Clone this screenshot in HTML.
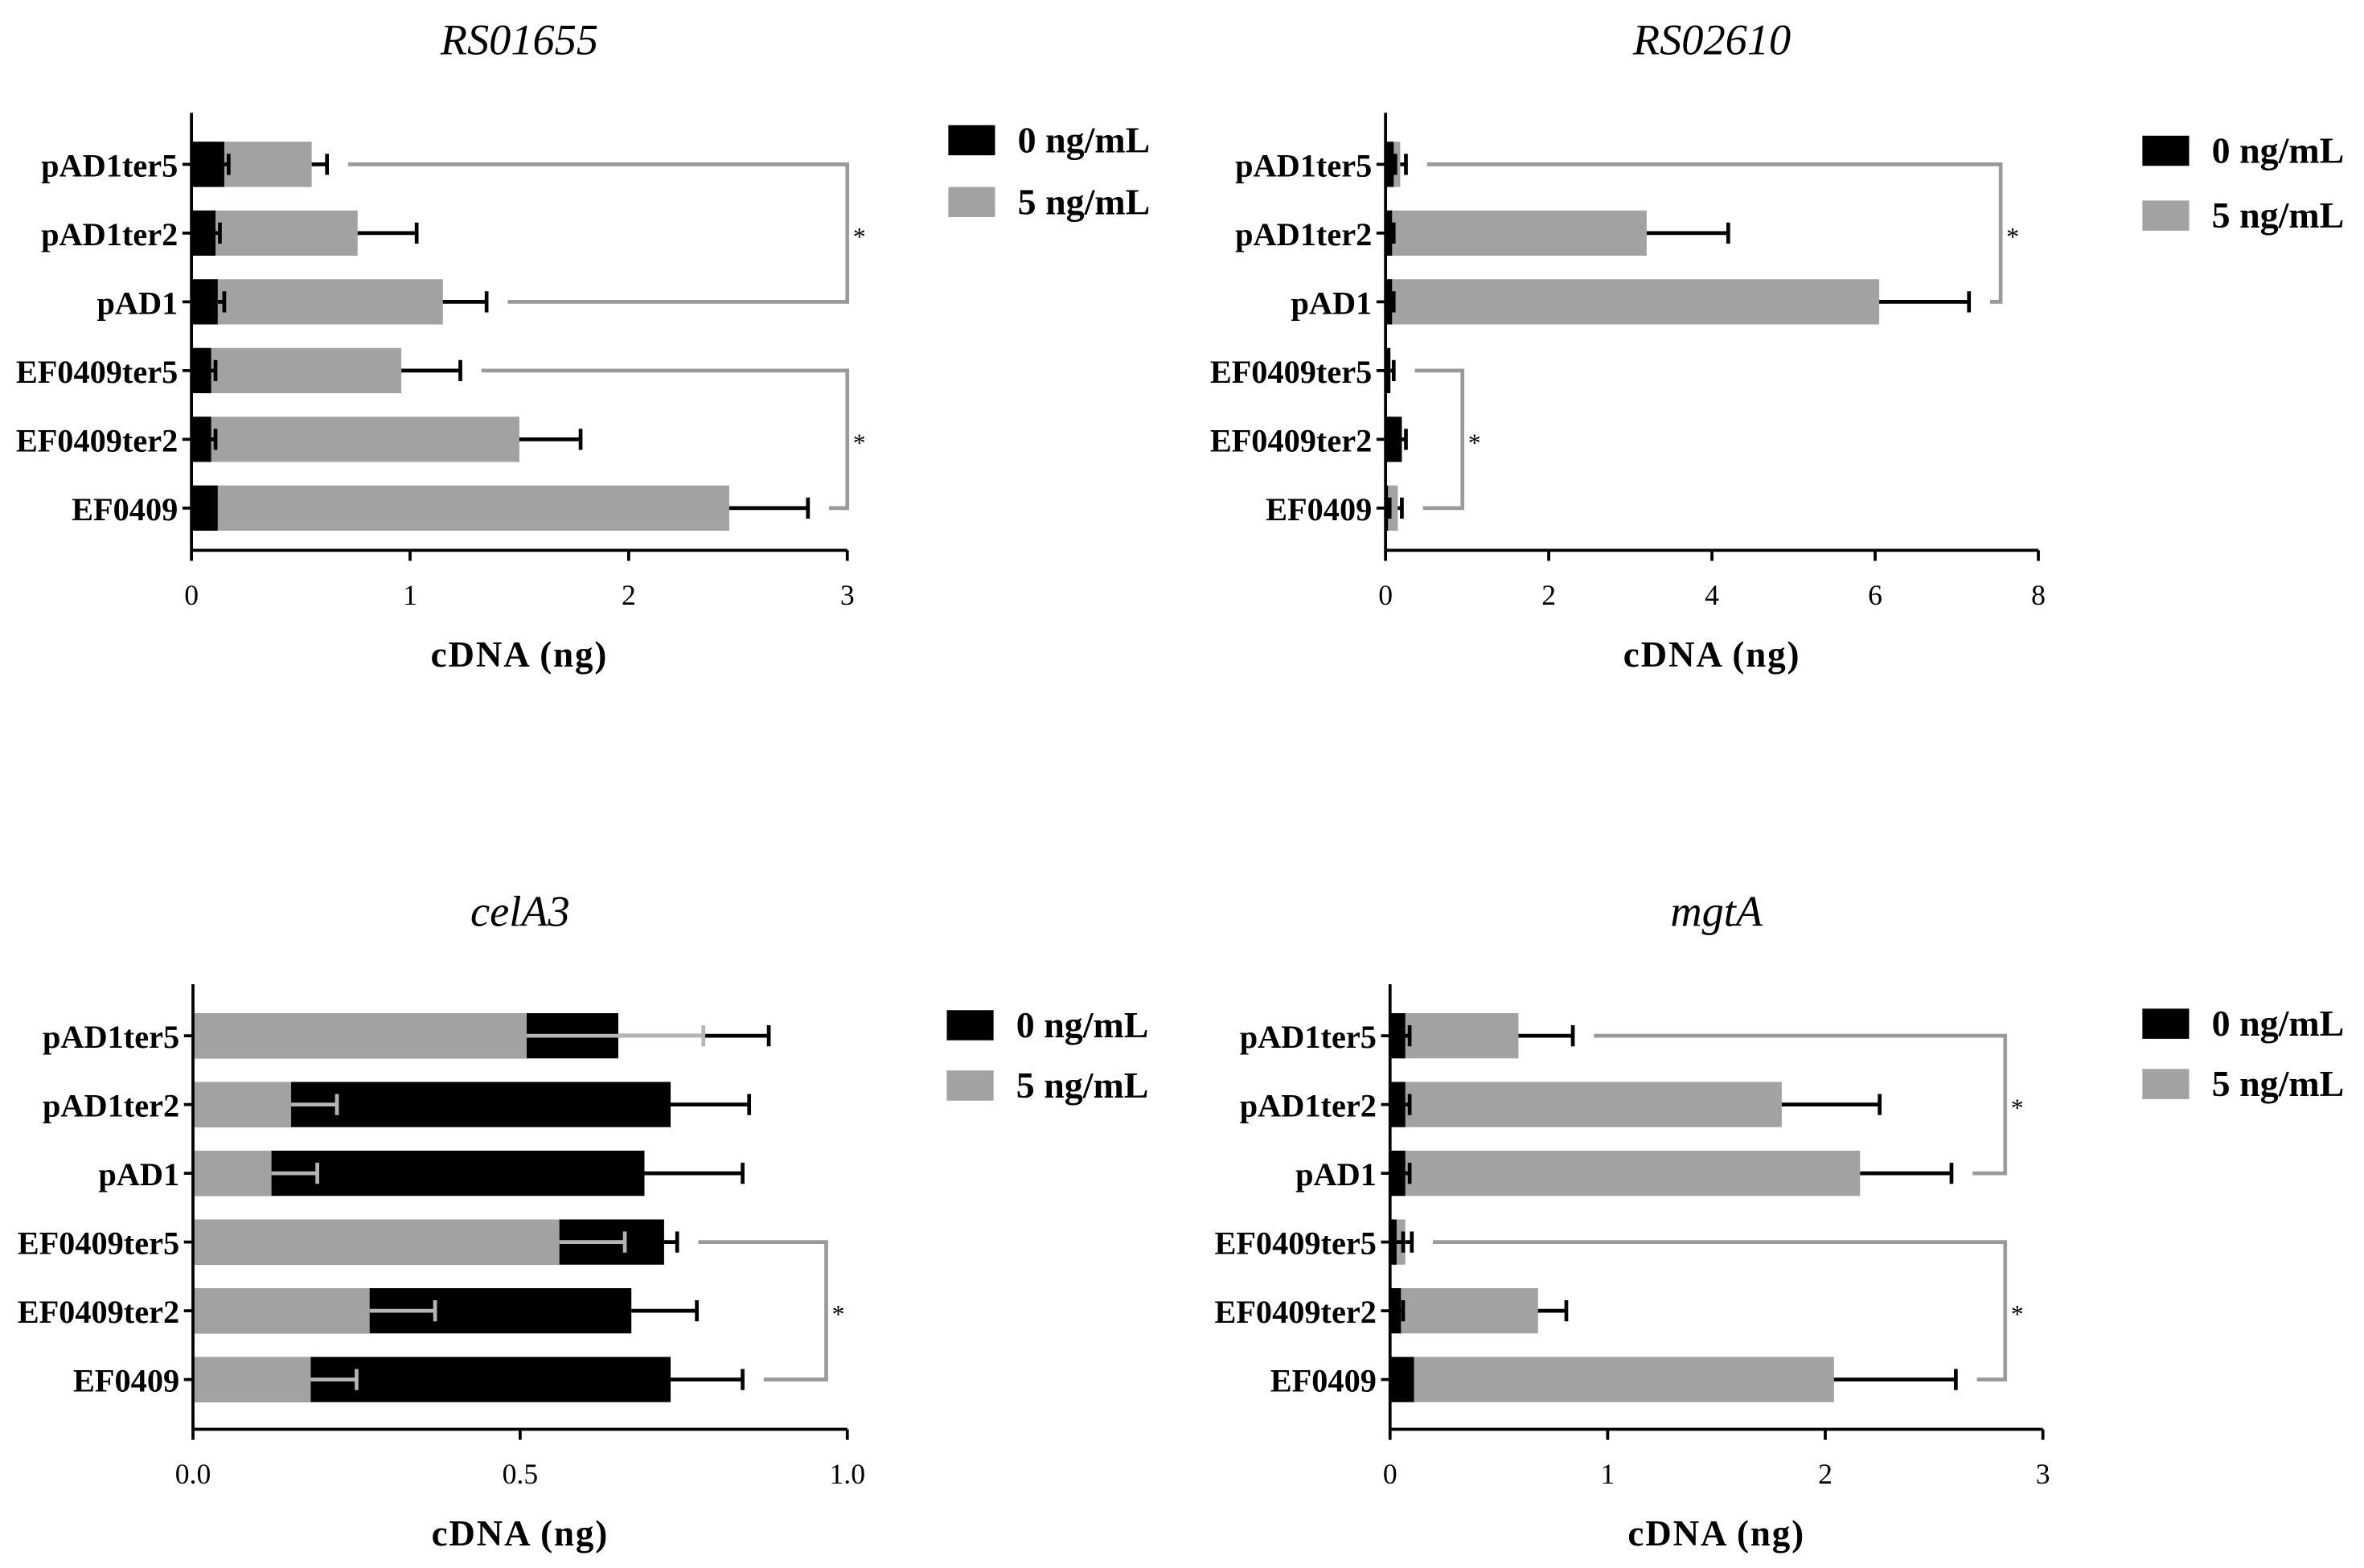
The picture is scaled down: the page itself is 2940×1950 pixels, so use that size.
<!DOCTYPE html>
<html><head><meta charset="utf-8"><style>
html,body{margin:0;padding:0;background:#fff}
svg{display:block}
text{font-family:"Liberation Serif",serif;fill:#000}
</style></head><body>
<svg id="chart" width="2940" height="1950" viewBox="0 0 1568 1040" xmlns="http://www.w3.org/2000/svg"></svg>
<script>
const categories = ["pAD1ter5","pAD1ter2","pAD1","EF0409ter5","EF0409ter2","EF0409"];
// RS01655
const p1Black = [0.15,0.11,0.12,0.09,0.09,0.12];
const p1BlackErr = [0.17,0.13,0.15,0.11,0.11,0.12];
const p1Grey = [0.55,0.76,1.15,0.96,1.5,2.46];
const p1GreyErr = [0.62,1.03,1.35,1.23,1.78,2.82];
const p1Ticks = ["0","1","2","3"];
// RS02610
const p2Black = [0.1,0.08,0.08,0.06,0.2,0.03];
const p2BlackErr = [0.12,0.1,0.1,0.1,0.25,0.05];
const p2GreyB = [0.18,3.2,6.05,0.05,0.1,0.15];
const p2GreyErrB = [0.25,4.2,7.15,0.05,0.1,0.2];
const p2Ticks = ["0","2","4","6","8"];
// celA3
const p3Black = [0.65,0.73,0.69,0.72,0.67,0.73];
const p3BlackErr = [0.88,0.85,0.84,0.74,0.77,0.84];
const p3Grey = [0.51,0.15,0.12,0.56,0.27,0.18];
const p3GreyErr = [0.78,0.22,0.19,0.66,0.37,0.25];
const p3Ticks = ["0.0","0.5","1.0"];
// mgtA
const p4Black = [0.07,0.07,0.07,0.03,0.05,0.11];
const p4BlackErr = [0.09,0.09,0.09,0.06,0.06,0.11];
const p4Grey = [0.59,1.8,2.16,0.07,0.68,2.04];
const p4GreyErr = [0.84,2.25,2.58,0.1,0.81,2.6];
const p4Ticks = ["0","1","2","3"];

const svg = document.getElementById('chart');
const NS = "http://www.w3.org/2000/svg";
function mk(tag, attrs, parent){const e=document.createElementNS(NS,tag);for(const k in attrs)e.setAttribute(k,attrs[k]);(parent||svg).appendChild(e);return e;}
const GREY="#a2a2a5", BR="#9a9a9a";

function panel(o){
  const g = mk('g',{});
  
  
  const xs = v => o.x0 + (v/o.max)*(o.x1-o.x0);
  const ys = i => o.yTop + i*o.step;
  const bh = 30;
  const t = mk('text',{x:(o.x0+o.x1)/2,y:o.titleY,'text-anchor':'middle','font-size':29,'font-style':'italic'},g);
  t.textContent=o.title;
  
  
  const order = o.blackFront ? ['grey','black'] : ['black','grey'];
  categories.forEach((c,i)=>{
    const y=ys(i);
    const lab = mk('text',{x:o.x0-9,y:y+8,'text-anchor':'end','font-size':21.5,'font-weight':'bold'},g);
    lab.textContent=c;
    
    
    mk('line',{x1:o.x0-6,x2:o.x0,y1:y,y2:y,stroke:'#000','stroke-width':2},g);
    const draw = (kind)=>{
      const v = kind==='black'?o.black[i]:o.grey[i];
      const e = kind==='black'?o.blackErr[i]:o.greyErr[i];
      const col = kind==='black'?'#000':GREY;
      const ecol = kind==='black'?'#000':(o.lightErr?'#b5b5b5':'#000');
      const r = mk('rect',{x:o.x0,y:y-bh/2,width:Math.max(0,xs(v)-o.x0),height:bh,fill:col},g);
      
      
      if(e>v){
        const l = mk('line',{x1:xs(v),x2:xs(e),y1:y,y2:y,stroke:ecol,'stroke-width':2.5},g);
        
        
        mk('line',{x1:xs(e),x2:xs(e),y1:y-7,y2:y+7,stroke:ecol,'stroke-width':2.5},g);
      }
    };
    order.forEach(draw);
  });
  mk('line',{x1:o.x0,x2:o.x0,y1:o.yTop-o.step*0.75,y2:o.axisY,stroke:'#000','stroke-width':2},g);
  mk('line',{x1:o.x0,x2:o.x1,y1:o.axisY,y2:o.axisY,stroke:'#000','stroke-width':2},g);
  o.ticks.forEach((tk,k)=>{
    const x=xs(parseFloat(tk));
    mk('line',{x1:x,x2:x,y1:o.axisY,y2:o.axisY+7,stroke:'#000','stroke-width':2},g);
    const tt=mk('text',{x:x,y:o.axisY+36,'text-anchor':'middle','font-size':19},g);
    tt.textContent=tk;
    
    
  });
  const at=mk('text',{x:(o.x0+o.x1)/2,y:o.axisY+77,'text-anchor':'middle','font-size':24,'font-weight':'bold','letter-spacing':1},g);
  at.textContent='cDNA (ng)';
  
  
  o.brackets.forEach(b=>{
    const ya=ys(b.a), yb=ys(b.b);
    const ma=Math.max(o.greyErr[b.a],o.blackErr[b.a],o.grey[b.a],o.black[b.a]);
    const mb=Math.max(o.greyErr[b.b],o.blackErr[b.b],o.grey[b.b],o.black[b.b]);
    const p=mk('path',{d:`M${xs(ma)+14},${ya} H${b.x} V${yb} H${xs(mb)+14}`,fill:'none',stroke:BR,'stroke-width':2.5},g);
    
    
    const s=mk('text',{x:b.x+8,y:(ya+yb)/2+8,'font-size':17,'text-anchor':'middle'},g);
    s.textContent='*';
    
    
  });
  [['#000','0 ng/mL',o.ly1],[GREY,'5 ng/mL',o.ly2]].forEach(([c,l,yy])=>{
    const r=mk('rect',{x:o.lx,y:yy,width:31,height:20,fill:c},g);
    
    
    const tx=mk('text',{x:o.lx+46,y:yy+18,'font-size':24.5,'font-weight':'bold'},g);
    tx.textContent=l;
    
    
  });
}

panel({id:'rs01655',title:'RS01655',titleY:36,x0:127,x1:562,max:3,yTop:109,step:45.6,axisY:365,
  black:p1Black,blackErr:p1BlackErr,grey:p1Grey,greyErr:p1GreyErr,ticks:p1Ticks,blackFront:true,
  brackets:[{a:0,b:2,x:562},{a:3,b:5,x:562}],lx:629,ly1:83,ly2:124});
panel({id:'rs02610',title:'RS02610',titleY:36,x0:919,x1:1352,max:8,yTop:109,step:45.6,axisY:365,
  black:p2Black,blackErr:p2BlackErr,grey:p2GreyB,greyErr:p2GreyErrB,ticks:p2Ticks,blackFront:true,
  brackets:[{a:0,b:2,x:1327},{a:3,b:5,x:970}],lx:1421,ly1:90,ly2:133});
panel({id:'cela3',title:'celA3',titleY:614,x0:128,x1:562,max:1,yTop:687,step:45.6,axisY:948,
  black:p3Black,blackErr:p3BlackErr,grey:p3Grey,greyErr:p3GreyErr,ticks:p3Ticks,blackFront:false,lightErr:true,
  brackets:[{a:3,b:5,x:548}],lx:628,ly1:670,ly2:710});
panel({id:'mgta',title:'mgtA',titleY:614,x0:922,x1:1355,max:3,yTop:687,step:45.6,axisY:948,
  black:p4Black,blackErr:p4BlackErr,grey:p4Grey,greyErr:p4GreyErr,ticks:p4Ticks,blackFront:true,
  brackets:[{a:0,b:2,x:1330},{a:3,b:5,x:1330}],lx:1421,ly1:669,ly2:709});
</script>
</body></html>
